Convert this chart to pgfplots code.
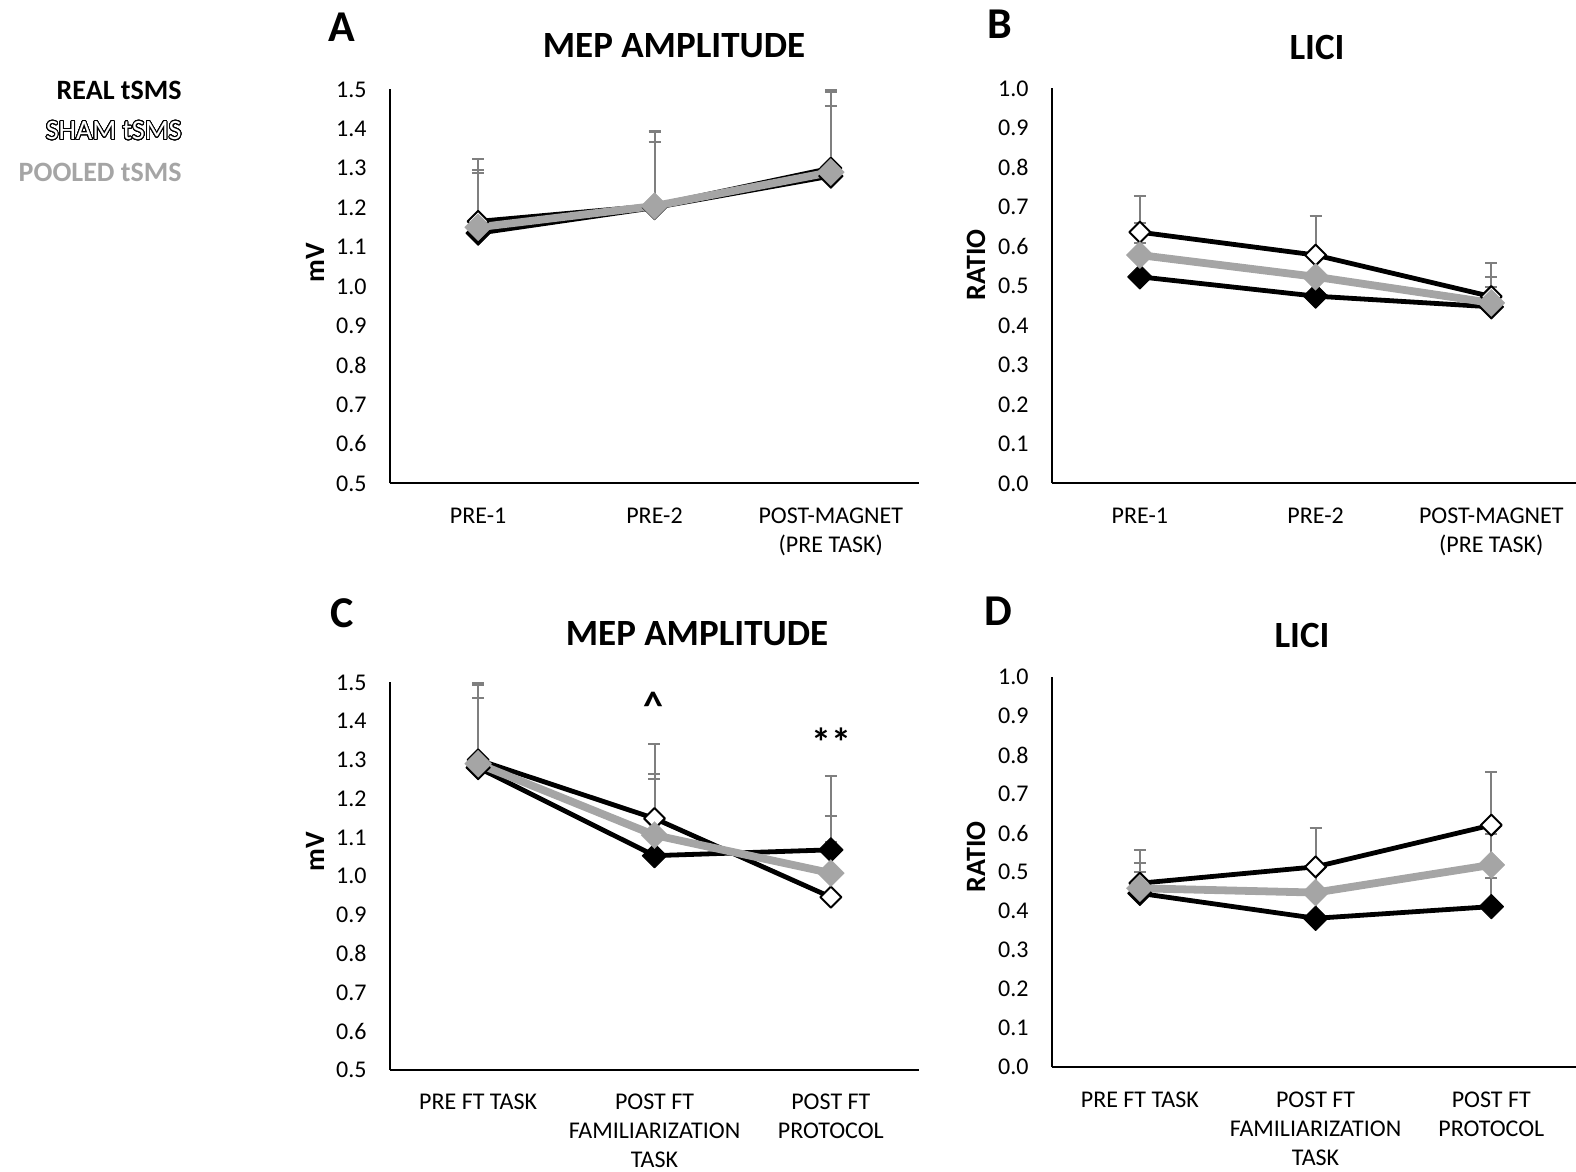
\documentclass[border=0pt]{standalone}
\usepackage{fontspec}
\setmainfont{Carlito}
\usepackage{pgfplots}
\pgfplotsset{compat=1.18}
\usepackage{contour}
\contourlength{0.45pt}
\contournumber{32}
\definecolor{pooled}{HTML}{A5A5A5}
\definecolor{errc}{HTML}{7F7F7F}

\pgfplotsset{
  panel/.style={
    scale only axis,
    axis x line=bottom, axis y line=left,
    axis line style={-, line width=1pt, black},
    major tick length=0pt, tick style={draw=none},
    xmin=-0.5, xtick={0,1,2},
    clip=false,
    /pgf/number format/assume math mode=true,
    ticklabel style={font=\fontsize{12}{14.5}\selectfont},
    yticklabel style={anchor=east, inner sep=0pt, xshift=-11.5pt},
    y tick label style={/pgf/number format/.cd, fixed, fixed zerofill, precision=1, /tikz/.cd},
    xticklabel style={align=center, anchor=north, inner sep=0pt, yshift=-12pt},
  },
  errs/.style={errc, line width=1pt, only marks, mark=none, forget plot,
    error bars/.cd, y dir=plus, y explicit,
    error bar style={errc, line width=1pt, solid},
    error mark options={errc, line width=1pt, mark size=3pt, rotate=90}},
  real/.style={black, line width=2.4pt, line join=round, mark=square*, mark size=4.3pt,
    mark options={rotate=45, fill=black, draw=black, line width=0.5pt, solid}},
  sham/.style={black, line width=2.4pt, line join=round, mark=square*, mark size=3.7pt,
    mark options={rotate=45, fill=white, draw=black, line width=1pt, solid}},
  pool/.style={pooled, line width=3.9pt, line join=round, mark=square*, mark size=4.8pt,
    mark options={rotate=45, fill=pooled, draw=pooled, line width=0.1pt, solid}},
}

\begin{document}
\begin{tikzpicture}[x=0.5pt,y=0.5pt]
\useasboundingbox (0,0) rectangle (1576,1172);

% ---------- Panel A ----------
\begin{axis}[panel, at={(195pt,344.3pt)}, anchor=south west,
  width=264.5pt, height=197pt, xmax=2.5,
  ymin=0.5, ymax=1.5, ytick={0.5,0.6,...,1.51},
  xticklabels={PRE-1, PRE-2, {POST-MAGNET\\(PRE TASK)}}]
\addplot[errs] coordinates {(0,1.135) +- (0,0.188) (1,1.200) +- (0,0.194) (2,1.280) +- (0,0.219)};
\addplot[errs] coordinates {(0,1.165) +- (0,0.131) (1,1.205) +- (0,0.186) (2,1.300) +- (0,0.194)};
\addplot[errs] coordinates {(0,1.150) +- (0,0.137) (1,1.204) +- (0,0.163) (2,1.290) +- (0,0.169)};
\addplot[real] coordinates {(0,1.135) (1,1.200) (2,1.280)};
\addplot[sham] coordinates {(0,1.165) (1,1.205) (2,1.300)};
\addplot[pool] coordinates {(0,1.150) (1,1.204) (2,1.290)};
\end{axis}

% ---------- Panel B ----------
\begin{axis}[panel, at={(526pt,344.3pt)}, anchor=south west,
  width=262pt, height=197.5pt, xmax=2.482,
  ymin=0, ymax=1, ytick={0,0.1,...,1.01},
  xticklabels={PRE-1, PRE-2, {POST-MAGNET\\(PRE TASK)}}]
\addplot[errs] coordinates {(0,0.523) +- (0,0.085) (1,0.474) +- (0,0.056) (2,0.447) +- (0,0.050)};
\addplot[errs] coordinates {(0,0.636) +- (0,0.092) (1,0.578) +- (0,0.099) (2,0.473) +- (0,0.084)};
\addplot[errs] coordinates {(0,0.578) +- (0,0.080) (1,0.523) +- (0,0.067) (2,0.457) +- (0,0.066)};
\addplot[real] coordinates {(0,0.523) (1,0.474) (2,0.447)};
\addplot[sham] coordinates {(0,0.636) (1,0.578) (2,0.473)};
\addplot[pool] coordinates {(0,0.578) (1,0.523) (2,0.457)};
\end{axis}

% ---------- Panel C ----------
\begin{axis}[panel, at={(195pt,51pt)}, anchor=south west,
  width=264.5pt, height=193.8pt, xmax=2.5,
  ymin=0.5, ymax=1.5, ytick={0.5,0.6,...,1.51},
  xticklabels={PRE FT TASK, {POST FT\\FAMILIARIZATION\\TASK}, {POST FT\\PROTOCOL}}]
\addplot[errs] coordinates {(0,1.280) +- (0,0.219) (1,1.053) +- (0,0.198) (2,1.068) +- (0,0.087)};
\addplot[errs] coordinates {(0,1.300) +- (0,0.194) (1,1.149) +- (0,0.191) (2,0.946) +- (0,0.313)};
\addplot[errs] coordinates {(0,1.290) +- (0,0.169) (1,1.106) +- (0,0.157) (2,1.008) +- (0,0.080)};
\addplot[real] coordinates {(0,1.280) (1,1.053) (2,1.068)};
\addplot[sham] coordinates {(0,1.300) (1,1.149) (2,0.946)};
\addplot[pool] coordinates {(0,1.290) (1,1.106) (2,1.008)};
\end{axis}

% ---------- Panel D ----------
\begin{axis}[panel, at={(526pt,52.35pt)}, anchor=south west,
  width=262pt, height=195pt, xmax=2.482,
  ymin=0, ymax=1, ytick={0,0.1,...,1.01},
  xticklabels={PRE FT TASK, {POST FT\\FAMILIARIZATION\\TASK}, {POST FT\\PROTOCOL}}]
\addplot[errs] coordinates {(0,0.446) +- (0,0.054) (1,0.382) +- (0,0.058) (2,0.412) +- (0,0.073)};
\addplot[errs] coordinates {(0,0.472) +- (0,0.085) (1,0.514) +- (0,0.099) (2,0.621) +- (0,0.137)};
\addplot[errs] coordinates {(0,0.459) +- (0,0.064) (1,0.448) +- (0,0.062) (2,0.519) +- (0,0.080)};
\addplot[real] coordinates {(0,0.446) (1,0.382) (2,0.412)};
\addplot[sham] coordinates {(0,0.472) (1,0.514) (2,0.621)};
\addplot[pool] coordinates {(0,0.459) (1,0.448) (2,0.519)};
\end{axis}

% ---------- Texts ----------
\node[anchor=east, inner sep=0pt, font=\fontsize{14}{16}\selectfont\bfseries] at (182,1081.5) {REAL tSMS};
\node[anchor=east, inner sep=0pt, font=\fontsize{14}{16}\selectfont] at (182,1041) {\contour{black}{\textcolor{white}{SHAM tSMS}}};
\node[anchor=east, inner sep=0pt, font=\fontsize{14}{16}\selectfont\bfseries, text=pooled] at (182,1000) {POOLED tSMS};

\node[font=\fontsize{22}{24}\selectfont\bfseries] at (342,1145) {A};
\node[font=\fontsize{22}{24}\selectfont\bfseries] at (1000,1148) {B};
\node[font=\fontsize{22}{24}\selectfont\bfseries] at (342,559) {C};
\node[font=\fontsize{22}{24}\selectfont\bfseries] at (998,561) {D};

\node[font=\fontsize{18.5}{22}\selectfont\bfseries] at (674,1126) {MEP AMPLITUDE};
\node[font=\fontsize{18.5}{22}\selectfont\bfseries] at (1317,1124) {LICI};
\node[font=\fontsize{18.5}{22}\selectfont\bfseries] at (697,538) {MEP AMPLITUDE};
\node[font=\fontsize{18.5}{22}\selectfont\bfseries] at (1302,536) {LICI};

\node[rotate=90, font=\fontsize{14}{16}\selectfont\bfseries] at (315,909) {mV};
\node[rotate=90, font=\fontsize{14}{16}\selectfont\bfseries] at (315,320) {mV};
\node[rotate=90, font=\fontsize{14}{16}\selectfont\bfseries] at (976,907) {RATIO};
\node[rotate=90, font=\fontsize{14}{16}\selectfont\bfseries] at (976,315) {RATIO};

\node[font=\fontsize{20}{22}\selectfont\bfseries] at (653,466) {\textasciicircum};
\node[font=\fontsize{20}{22}\selectfont\bfseries] at (831,430) {**};
\end{tikzpicture}
\end{document}
